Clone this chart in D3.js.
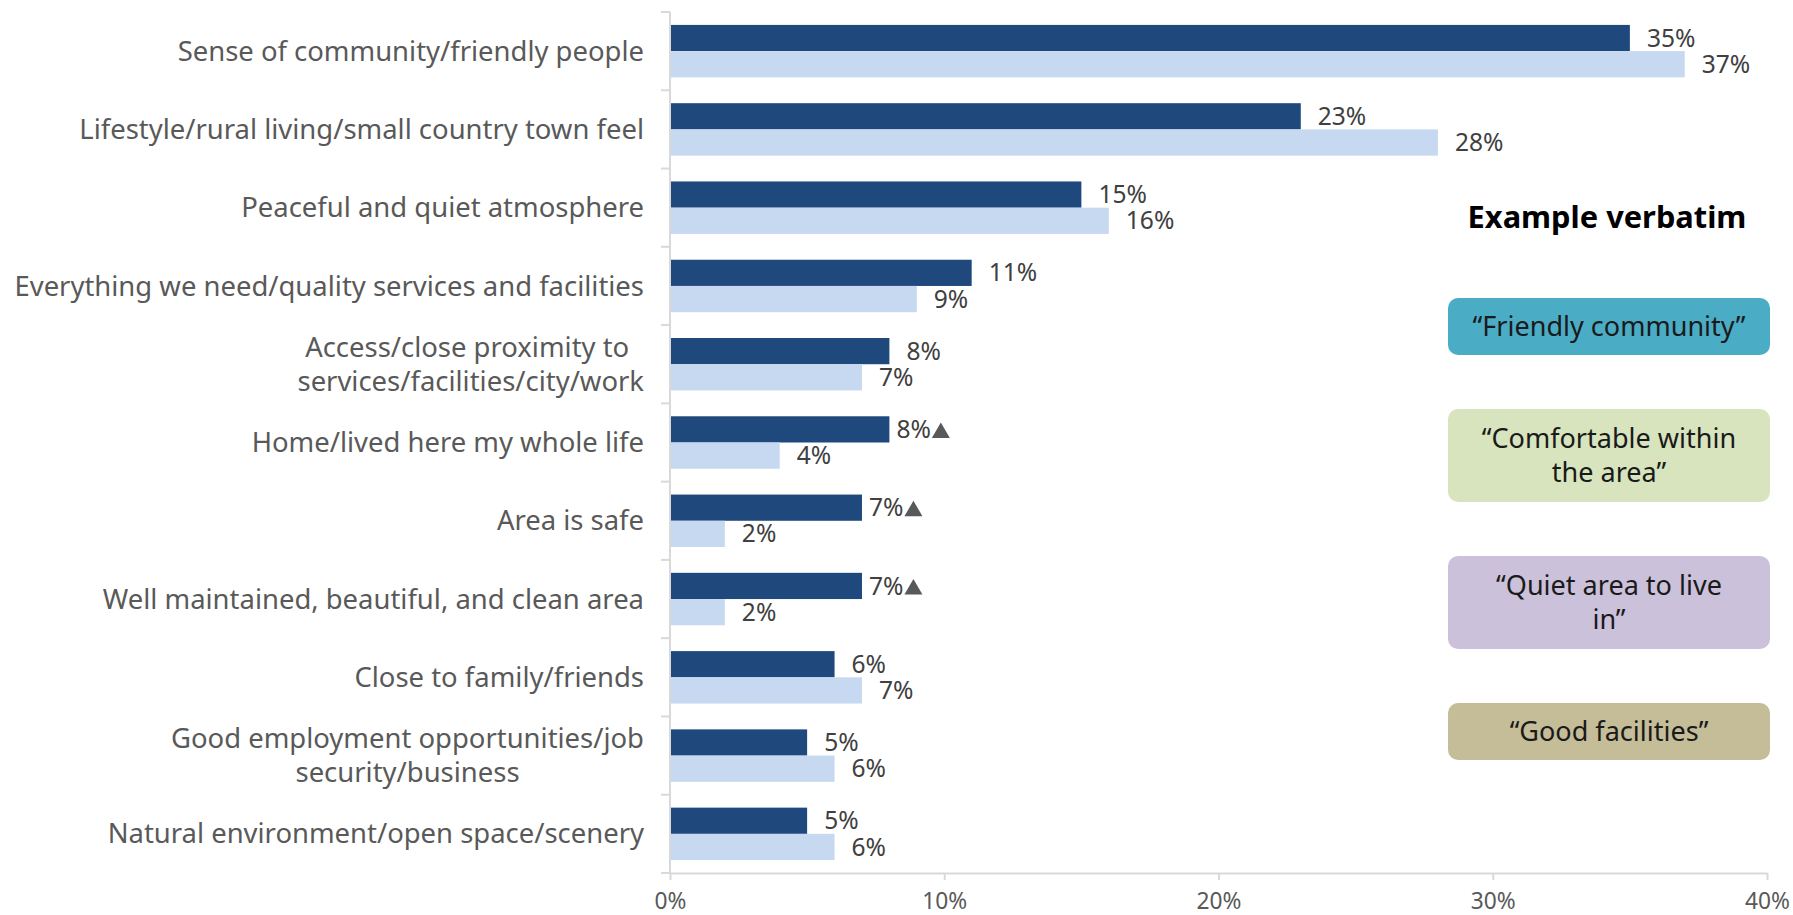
<!DOCTYPE html>
<html>
<head>
<meta charset="utf-8">
<script src="https://cdn.jsdelivr.net/npm/d3@7"></script>
<style>
    body { margin: 0; background: #fff; overflow: hidden; }
    svg { display: block; }
    svg text { font-family: "Noto Sans", sans-serif; white-space: pre; }
</style>
</head>
<body>
<div id="chart"></div>
<script>
// chart data
const categories = [
    'Sense of community/friendly people',
    'Lifestyle/rural living/small country town feel',
    'Peaceful and quiet atmosphere',
    'Everything we need/quality services and facilities',
    'Access/close proximity to \nservices/facilities/city/work',
    'Home/lived here my whole life',
    'Area is safe',
    'Well maintained, beautiful, and clean area',
    'Close to family/friends',
    'Good employment opportunities/job\nsecurity/business',
    'Natural environment/open space/scenery'
];
const currentValues = [35, 23, 15, 11, 8, 8, 7, 7, 6, 5, 5];
const comparisonValues = [37, 28, 16, 9, 7, 4, 2, 2, 7, 6, 6];
const significantlyHigher = [false, false, false, false, false, true, true, true, false, false, false];
const xTickValues = [0, 10, 20, 30, 40];
const verbatimTitle = 'Example verbatim';
const verbatims = [
    ['“Friendly community”'],
    ['“Comfortable within', 'the area”'],
    ['“Quiet area to live', 'in”'],
    ['“Good facilities”']
];

document.addEventListener('DOMContentLoaded', () => {
    const width = 1793;
    const height = 915;
    const seriesColors = { current: '#1F497D', comparison: '#C6D9F1' };
    const boxColors = ['#4BACC6', '#D7E4BD', '#CCC1DA', '#C4BD97'];
    const axisColor = '#D9D9D9';

    const svg = d3.select('#chart').append('svg')
        .attr('width', width)
        .attr('height', height);

    // hidden text used to size fonts so the widths match the original
    const measure = svg.append('text').attr('visibility', 'hidden');
    function textWidth(str, size, weight) {
        measure.attr('font-size', size).attr('font-weight', weight || 400).text(str);
        return measure.node().getComputedTextLength();
    }
    const catSize = 24 * 630 / textWidth(categories[3], 24);
    const valueSize = 24 * 48.5 / textWidth('35%', 24);
    const tickSize = 24 * 45 / textWidth('10%', 24);
    const titleSize = 28 * 279 / textWidth(verbatimTitle, 28, 700);
    const boxSize = 24 * 273 / textWidth(verbatims[0][0], 24);

    const x = d3.scaleLinear()
        .domain([0, 40])
        .range([670, 1767]);

    const y = d3.scaleBand()
        .domain(categories)
        .range([12, 873])
        .paddingInner(0.33)
        .paddingOuter(0.165);

    const ySeries = d3.scaleBand()
        .domain(['current', 'comparison'])
        .range([0, y.bandwidth()]);

    const rows = categories.map((c, i) => ({
        category: c,
        current: currentValues[i],
        comparison: comparisonValues[i],
        sig: significantlyHigher[i]
    }));

    // y axis line and ticks between the categories
    const boundaries = d3.range(categories.length + 1).map(i => y.range()[0] + i * y.step());
    svg.append('line')
        .attr('x1', x(0)).attr('x2', x(0))
        .attr('y1', y.range()[0]).attr('y2', y.range()[1])
        .attr('stroke', axisColor).attr('stroke-width', 2);
    svg.selectAll('.ytick')
        .data(boundaries)
        .join('line')
        .attr('class', 'ytick')
        .attr('x1', x(0) - 9).attr('x2', x(0))
        .attr('y1', d => d).attr('y2', d => d)
        .attr('stroke', axisColor).attr('stroke-width', 2);

    // x axis
    const xAxis = svg.append('g')
        .attr('transform', `translate(0,${y.range()[1]})`)
        .call(d3.axisBottom(x)
            .tickValues(xTickValues)
            .tickFormat(d => d + '%')
            .tickSize(7)
            .tickSizeOuter(0));
    xAxis.select('.domain').attr('stroke', axisColor).attr('stroke-width', 2);
    xAxis.selectAll('.tick line').attr('stroke', axisColor).attr('stroke-width', 2);
    xAxis.selectAll('.tick text')
        .attr('y', 28)
        .attr('dy', '0.35em')
        .attr('fill', '#595959')
        .attr('font-size', tickSize)
        .attr('font-family', '"Noto Sans", sans-serif');

    // bars
    const groups = svg.selectAll('.row')
        .data(rows)
        .join('g')
        .attr('class', 'row')
        .attr('transform', d => `translate(0,${y(d.category)})`);

    groups.selectAll('rect')
        .data(d => ['current', 'comparison'].map(k => ({ key: k, value: d[k] })))
        .join('rect')
        .attr('x', x(0) + 1)
        .attr('y', d => ySeries(d.key))
        .attr('width', d => x(d.value) - x(0) - 1)
        .attr('height', ySeries.bandwidth())
        .attr('fill', d => seriesColors[d.key]);

    // value labels, with a triangle where the current figure is significantly higher
    groups.each(function (d) {
        const g = d3.select(this);
        ['current', 'comparison'].forEach(k => {
            const hasArrow = k === 'current' && d.sig;
            const cy = ySeries(k) + ySeries.bandwidth() / 2;
            const label = g.append('text')
                .attr('x', x(d[k]) + (hasArrow ? 7 : 17))
                .attr('y', cy)
                .attr('dy', '0.35em')
                .attr('fill', '#404040')
                .attr('font-size', valueSize)
                .text(d[k] + '%');
            if (hasArrow) {
                const end = x(d[k]) + 7 + label.node().getComputedTextLength();
                const side = 18;
                const h = side * Math.sqrt(3) / 2;
                const base = cy + 0.35 * valueSize;
                g.append('path')
                    .attr('d', d3.symbol(d3.symbolTriangle, side * side * Math.sqrt(3) / 4)())
                    .attr('transform', `translate(${end + 1 + side / 2},${base - h / 3})`)
                    .attr('fill', '#595959');
            }
        });
    });

    // category labels, wrapped ones centred line by line
    const lineGap = 34;
    svg.selectAll('.cat')
        .data(categories)
        .join('text')
        .attr('class', 'cat')
        .attr('fill', '#595959')
        .attr('font-size', catSize)
        .each(function (c) {
            const lines = c.split('\n');
            const widths = lines.map(l => textWidth(l, catSize));
            const maxW = d3.max(widths);
            const right = x(0) - 26;
            const cy = y(c) + y.bandwidth() / 2;
            const t = d3.select(this);
            lines.forEach((l, i) => {
                t.append('tspan')
                    .attr('x', lines.length > 1 ? right - maxW / 2 : right)
                    .attr('y', cy + (i - (lines.length - 1) / 2) * lineGap)
                    .attr('dy', '0.35em')
                    .attr('text-anchor', lines.length > 1 ? 'middle' : 'end')
                    .text(l);
            });
        });

    // example verbatim panel
    const panelX = 1448;
    const panelW = 322;
    svg.append('text')
        .attr('x', panelX + panelW / 2 - 2)
        .attr('y', 228)
        .attr('text-anchor', 'middle')
        .attr('font-weight', 700)
        .attr('font-size', titleSize)
        .attr('fill', '#000')
        .text(verbatimTitle);

    const lineH = 34;
    let top = 298;
    verbatims.forEach((lines, i) => {
        const boxH = lines.length > 1 ? 93 : 57;
        svg.append('rect')
            .attr('x', panelX)
            .attr('y', top)
            .attr('width', panelW)
            .attr('height', boxH)
            .attr('rx', 10)
            .attr('fill', boxColors[i]);
        const cy = top + boxH / 2;
        lines.forEach((l, j) => {
            svg.append('text')
                .attr('x', panelX + panelW / 2)
                .attr('y', cy + (j - (lines.length - 1) / 2) * lineH)
                .attr('dy', '0.35em')
                .attr('text-anchor', 'middle')
                .attr('font-size', boxSize)
                .attr('fill', '#1a1a1a')
                .text(l);
        });
        top += boxH + 54;
    });

    measure.remove();
});
</script>
</body>
</html>
